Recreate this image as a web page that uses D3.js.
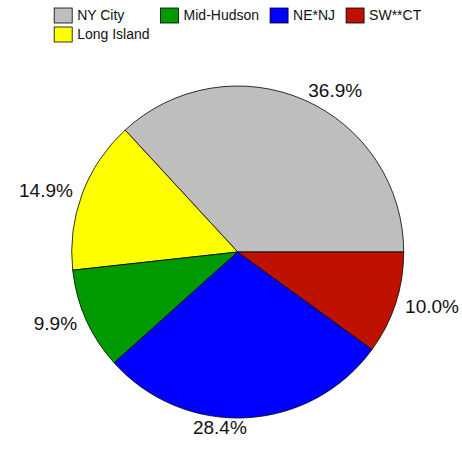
<!DOCTYPE html>
<html>
<head>
<meta charset="utf-8">
<script src="https://cdn.jsdelivr.net/npm/d3@7"></script>
<style>
  body { margin: 0; background: #fff; }
  text { font-family: "Liberation Sans", Arial, sans-serif; }
</style>
</head>
<body>
<div id="chart"></div>
<script>
const regions = ["NY City", "Long Island", "Mid-Hudson", "NE*NJ", "SW**CT"];
const shares = [36.9, 14.9, 9.9, 28.4, 10.0];
const colors = ["#bebebe", "#ffff00", "#009900", "#0000ff", "#bf1100"];
// legend is laid out in rows, first column shared by two entries
const legendRows = [["NY City", "Mid-Hudson", "NE*NJ", "SW**CT"], ["Long Island"]];

const width = 462, height = 449;
const cx = 237.7, cy = 252, radius = 166;

const svg = d3.select("#chart").append("svg")
    .attr("width", width)
    .attr("height", height);

const color = d3.scaleOrdinal().domain(regions).range(colors);

const data = regions.map((r, i) => ({ region: r, value: shares[i] }));

// start at 3 o'clock and go counter-clockwise
const pie = d3.pie()
    .sort(null)
    .value(d => d.value)
    .startAngle(Math.PI / 2)
    .endAngle(Math.PI / 2 - 2 * Math.PI);

const arc = d3.arc().innerRadius(0).outerRadius(radius);

const g = svg.append("g").attr("transform", `translate(${cx},${cy})`);

const arcs = pie(data);

g.selectAll("path")
    .data(arcs)
    .join("path")
    .attr("d", arc)
    .attr("fill", d => color(d.data.region))
    .attr("stroke", "#000")
    .attr("stroke-width", 0.8);

// labels just outside the pie
const labelR = radius * 1.06;
const mid = d => (d.startAngle + d.endAngle) / 2;
g.selectAll("text.lab")
    .data(arcs)
    .join("text")
    .attr("class", "lab")
    .attr("x", d => Math.sin(mid(d)) * labelR)
    .attr("y", d => -Math.cos(mid(d)) * labelR)
    .attr("dy", "0.35em")
    .attr("text-anchor", d => Math.sin(mid(d)) < 0.1 ? "end" : "start")
    .style("font-size", "19px")
    .attr("fill", "#111")
    .text(d => d.data.value.toFixed(1) + "%");

// legend
const boxW = 18, boxH = 15, textGap = 5, colGap = 11, rowH = 19;
const fontSize = 14;
const measure = svg.append("text").style("font-size", fontSize + "px");
const textW = s => { measure.text(s); return measure.node().getComputedTextLength(); };

const nCols = d3.max(legendRows, r => r.length);
const colWidths = d3.range(nCols).map(c =>
    d3.max(legendRows, r => r[c] ? textW(r[c]) : 0));
measure.remove();

const itemW = colWidths.map(w => boxW + textGap + w);
const totalW = d3.sum(itemW) + colGap * (nCols - 1);
const colX = [];
let acc = cx - totalW / 2;
itemW.forEach(w => { colX.push(acc); acc += w + colGap; });

const legend = svg.append("g");
legendRows.forEach((row, ri) => {
    row.forEach((name, ci) => {
        const y0 = 8 + ri * rowH;
        legend.append("rect")
            .attr("x", colX[ci])
            .attr("y", y0)
            .attr("width", boxW)
            .attr("height", boxH)
            .attr("fill", color(name))
            .attr("stroke", "#000")
            .attr("stroke-width", 0.8);
        legend.append("text")
            .attr("x", colX[ci] + boxW + textGap)
            .attr("y", y0 + boxH / 2)
            .attr("dy", "0.35em")
            .style("font-size", fontSize + "px")
            .attr("fill", "#111")
            .text(name);
    });
});
</script>
</body>
</html>
